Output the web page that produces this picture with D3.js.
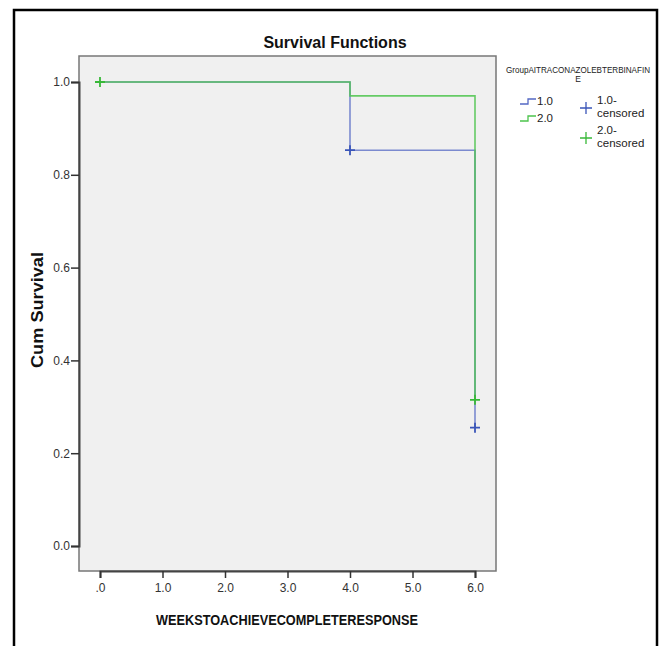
<!DOCTYPE html>
<html lang="en">
<head>
<meta charset="UTF-8">
<title>Survival Functions</title>
<script src="https://d3js.org/d3.v7.min.js"></script>
<style>
    body { margin: 0; padding: 0; background: #fff; }
    svg { display: block; font-family: "Liberation Sans", Arial, sans-serif; }
    .tick text { fill: #333; font-size: 12px; }
</style>
</head>
<body>
<svg width="664" height="646"></svg>
<script>
    // step curves: time, cumulative survival after the event at that time
    const group1Times = [0, 4, 6];
    const group1Surv = [1.0, 0.853, 0.255];
    const group2Times = [0, 4, 6];
    const group2Surv = [1.0, 0.970, 0.315];

    // censored marks
    const group1CensTimes = [4, 6];
    const group1CensSurv = [0.853, 0.255];
    const group2CensTimes = [0, 6];
    const group2CensSurv = [1.0, 0.315];

    const xTicks = [0, 1, 2, 3, 4, 5, 6];
    const yTicks = [0, 0.2, 0.4, 0.6, 0.8, 1.0];

    const blue = "#5468c4";
    const green = "#4cc44c";

    const svg = d3.select("svg");

    // outer frame
    svg.append("path")
        .attr("d", "M14,660 L14,10 L657,10 L657,660")
        .attr("fill", "none")
        .attr("stroke", "#000")
        .attr("stroke-width", 2.5);

    const plot = { left: 79, right: 496, top: 56, bottom: 571 };

    const x = d3.scaleLinear().domain([0, 6]).range([100, 475]);
    const y = d3.scaleLinear().domain([0, 1]).range([546, 82]);

    svg.append("rect")
        .attr("x", plot.left).attr("y", plot.top)
        .attr("width", plot.right - plot.left)
        .attr("height", plot.bottom - plot.top)
        .attr("fill", "#f0f0f0")
        .attr("stroke", "#777")
        .attr("stroke-width", 1.5);

    const xAxis = svg.append("g")
        .attr("transform", `translate(0,${plot.bottom})`)
        .call(d3.axisBottom(x).tickValues(xTicks).tickSize(7).tickPadding(5)
            .tickFormat(d => d === 0 ? ".0" : d3.format(".1f")(d)));
    const yAxis = svg.append("g")
        .attr("transform", `translate(${plot.left},0)`)
        .call(d3.axisLeft(y).tickValues(yTicks).tickSize(8).tickPadding(1)
            .tickFormat(d3.format(".1f")));
    [xAxis, yAxis].forEach(a => {
        a.select(".domain").attr("stroke", "#444").attr("stroke-width", 2);
        a.selectAll(".tick line").attr("stroke", "#333").attr("stroke-width", 1.5);
        a.selectAll(".tick text")
            .style("font-family", "'Liberation Sans Narrow', 'Liberation Sans', Arial, sans-serif");
    });

    function stepPath(times, surv) {
        let d = `M${x(times[0])},${y(surv[0])}`;
        for (let i = 1; i < times.length; i++) {
            d += `H${x(times[i])}V${y(surv[i])}`;
        }
        return d;
    }

    function plus(g, xs, ys, color) {
        xs.forEach((t, i) => {
            const cx = x(t), cy = y(ys[i]);
            g.append("path")
                .attr("d", `M${cx - 5},${cy}H${cx + 5}M${cx},${cy - 5}V${cy + 5}`)
                .attr("stroke", color)
                .attr("stroke-width", 1.8);
        });
    }

    const curves = svg.append("g");
    curves.append("path")
        .attr("d", stepPath(group1Times, group1Surv))
        .attr("fill", "none").attr("stroke", blue).attr("stroke-width", 1.6).attr("opacity", 0.75);
    plus(curves, group1CensTimes, group1CensSurv, "#3a55b8");
    curves.append("path")
        .attr("d", stepPath(group2Times, group2Surv))
        .attr("fill", "none").attr("stroke", green).attr("stroke-width", 1.6).attr("opacity", 0.85);
    plus(curves, group2CensTimes, group2CensSurv, "#38b838");

    // titles
    svg.append("text")
        .attr("x", 335).attr("y", 48)
        .attr("text-anchor", "middle")
        .attr("font-size", 16).attr("font-weight", "bold")
        .attr("fill", "#111")
        .text("Survival Functions");

    svg.append("text")
        .attr("transform", "translate(43,310) rotate(-90)")
        .attr("text-anchor", "middle")
        .attr("font-size", 16).attr("font-weight", "bold")
        .attr("textLength", 116).attr("lengthAdjust", "spacingAndGlyphs")
        .attr("fill", "#111")
        .text("Cum Survival");

    svg.append("text")
        .attr("x", 287).attr("y", 625)
        .attr("text-anchor", "middle")
        .attr("font-size", 14).attr("font-weight", "bold")
        .attr("textLength", 262).attr("lengthAdjust", "spacingAndGlyphs")
        .attr("fill", "#111")
        .text("WEEKSTOACHIEVECOMPLETERESPONSE");

    // legend
    const legend = svg.append("g").attr("font-size", 11.5).attr("fill", "#222");
    legend.append("text")
        .attr("x", 578).attr("y", 73).attr("text-anchor", "middle")
        .attr("font-size", 8.5).attr("textLength", 144).attr("lengthAdjust", "spacingAndGlyphs")
        .text("GroupAITRACONAZOLEBTERBINAFIN");
    legend.append("text")
        .attr("x", 578).attr("y", 82).attr("text-anchor", "middle")
        .attr("font-size", 8.5)
        .text("E");

    const stepItems = [
        { label: "1.0", color: blue, y: 104 },
        { label: "2.0", color: green, y: 121 }
    ];
    stepItems.forEach(it => {
        legend.append("path")
            .attr("d", `M520,${it.y}H528V${it.y - 5}H536`)
            .attr("fill", "none").attr("stroke", it.color).attr("stroke-width", 1.3);
        legend.append("text").attr("x", 537).attr("y", it.y + 1).text(it.label);
    });

    const censItems = [
        { label: "1.0-", color: "#3a55b8", y: 108 },
        { label: "2.0-", color: "#38b838", y: 138 }
    ];
    censItems.forEach(it => {
        legend.append("path")
            .attr("d", `M580,${it.y}H592M586,${it.y - 6}V${it.y + 6}`)
            .attr("stroke", it.color).attr("stroke-width", 1.3);
        legend.append("text").attr("x", 597).attr("y", it.y - 4).text(it.label);
        legend.append("text").attr("x", 597).attr("y", it.y + 9).text("censored");
    });
</script>
</body>
</html>
